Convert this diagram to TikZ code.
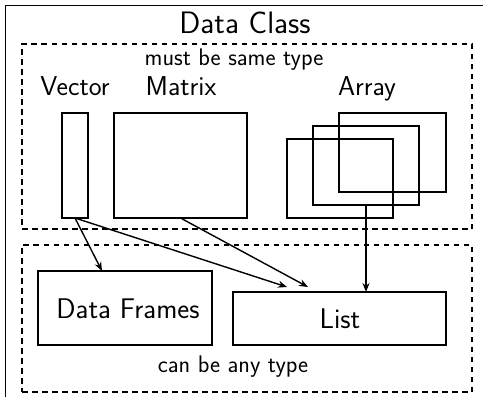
\documentclass[tikz,border=0pt]{standalone}
\usetikzlibrary{arrows.meta,calc}
\begin{document}
\begin{tikzpicture}[x=1pt,y=-1pt,
  every node/.style={font=\sffamily},
  box/.style={draw,line width=1.8pt,inner sep=0pt,outer sep=0pt,rectangle},
  frame/.style={draw,line width=1.8pt},
  grp/.style={draw,line width=1.8pt,dash pattern=on 5.5pt off 4.5pt,inner sep=0pt,outer sep=0pt,rectangle},
  arr/.style={line width=1.4pt,-{Stealth[length=9pt,width=7pt]}},
  titletxt/.style={anchor=base,font=\sffamily\fontsize{31}{36}\selectfont},
  labeltxt/.style={anchor=base,font=\sffamily\fontsize{27.3}{32}\selectfont},
  bigtxt/.style={anchor=base,font=\sffamily\fontsize{28.4}{33}\selectfont},
  smalltxt/.style={anchor=base,font=\sffamily\fontsize{24}{29}\selectfont}]
\useasboundingbox (0,0) rectangle (483,397);
% outer frame (cropped at right and bottom)
\coordinate (frameTR) at (483,5.5);
\coordinate (frameTL) at (5.5,5.5);
\coordinate (frameBL) at (5.5,397);
\draw[frame] (frameTR) -- (frameTL) -- (frameBL);
\node[titletxt] (title) at (245,33) {Data Class};
% groups
\node[grp,minimum width=450pt,minimum height=185pt,anchor=north west] (same) at (22,44) {};
\node[grp,minimum width=450pt,minimum height=147pt,anchor=north west] (any) at (22,245) {};
\node[smalltxt] (mustlbl) at (234,65) {must be same type};
\node[smalltxt] (anylbl) at (233,372) {can be any type};
% labels
\node[labeltxt] (veclbl) at (75,95) {Vector};
\node[labeltxt] (matlbl) at (181,95) {Matrix};
\node[labeltxt] (arrlbl) at (367,95) {Array};
% data structures
\node[box,minimum width=26pt,minimum height=105pt,anchor=north west] (vec) at (62,113) {};
\node[box,minimum width=133pt,minimum height=105pt,anchor=north west] (mat) at (114,113) {};
\node[box,minimum width=107pt,minimum height=79pt,anchor=north west] (arr3) at (339,113) {};
\node[box,minimum width=106pt,minimum height=79pt,anchor=north west] (arr2) at (313,126) {};
\node[box,minimum width=106pt,minimum height=79pt,anchor=north west] (arr1) at (287,139) {};
\node[box,minimum width=174pt,minimum height=74pt,anchor=north west] (df) at (38,271) {};
\node[bigtxt] (dflbl) at (128,318) {Data Frames};
\node[box,minimum width=213pt,minimum height=53pt,anchor=north west] (list) at (233,292) {};
\node[bigtxt] (listlbl) at (340,328) {List};
% connectors
\draw[arr] (vec.south) -- ($(df.north west)+(64,0)$);
\draw[arr] (vec.south) -- ($(list.north west)+(54,-5)$);
\draw[arr] (mat.south) -- ($(list.north west)+(75,-5)$);
\draw[arr] (arr2.south) -- (arr2.south |- list.north);
\end{tikzpicture}
\end{document}
